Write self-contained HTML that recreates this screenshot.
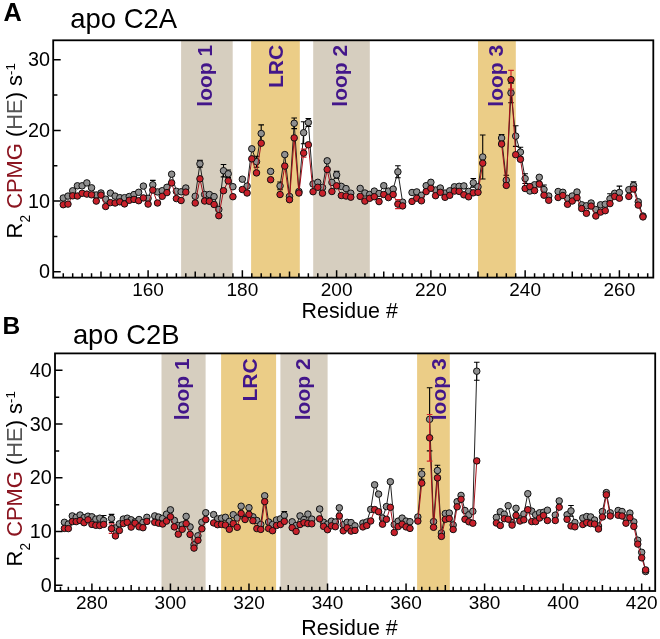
<!DOCTYPE html>
<html><head><meta charset="utf-8"><title>apo C2A / C2B R2 CPMG</title>
<style>html,body{margin:0;padding:0;background:#fff;width:660px;height:639px;overflow:hidden;}svg{display:block;font-family:"Liberation Sans", sans-serif;}svg{will-change:transform;}</style></head>
<body>
<svg width="660" height="639" viewBox="0 0 660 639" font-family='"Liberation Sans", sans-serif'>
<rect width="660" height="639" fill="#fff"/>
<rect x="181.1" y="40.3" width="51.6" height="237.3" fill="#d6cebf"/>
<rect x="251.1" y="40.3" width="48.7" height="237.3" fill="#ebcd87"/>
<rect x="313.2" y="40.3" width="56.6" height="237.3" fill="#d6cebf"/>
<rect x="478" y="40.3" width="37.8" height="237.3" fill="#ebcd87"/>
<text transform="translate(211.9 44.8) rotate(-90)" x="0" y="0" text-anchor="end" font-weight="bold" font-size="21" fill="#43168a">loop 1</text>
<text transform="translate(283 44.8) rotate(-90)" x="0" y="0" text-anchor="end" font-weight="bold" font-size="21" fill="#43168a">LRC</text>
<text transform="translate(347 44.8) rotate(-90)" x="0" y="0" text-anchor="end" font-weight="bold" font-size="21" fill="#43168a">loop 2</text>
<text transform="translate(502.5 44.8) rotate(-90)" x="0" y="0" text-anchor="end" font-weight="bold" font-size="21" fill="#43168a">loop 3</text>
<path d="M63.27 198 L67.98 196.1 L72.69 190.8 L77.4 185.8 L82.12 185.8 L86.83 182.9 L91.54 187.8 L96.26 195 L100.97 193 L105.68 199.2 L110.4 193.1 L115.11 196.1 L119.82 197.7 L124.53 197.7 L129.25 196.5 L133.96 194.6 L138.67 192.3 L143.39 186.1 L148.1 198.3 L152.81 184.8 L157.53 191.9 L162.24 190.7 L166.95 187.3 L171.66 174.2 L176.38 191.3 L181.09 191.8 L185.8 188M195.23 196.3 L199.94 163.8 L204.66 194.5 L209.37 194.5 L214.08 196.6 L218.8 209.5 L223.51 170.7 L228.22 173.8 L232.93 186.7M242.36 179.2 L247.07 186.1 L251.79 148.8 L256.5 161.7 L261.21 133.5M280.06 185.9 L284.78 154.6 L289.49 196.4 L294.2 123.3 L298.92 191.5 L303.63 132.7 L308.34 122.5 L313.06 184 L317.77 182.3 L322.48 187.5 L327.19 160.8 L331.91 182.4 L336.62 174.8 L341.33 186.4 L346.05 188.6 L350.76 193.2M360.19 188.4 L364.9 193 L369.61 194.5 L374.32 191.1 L379.04 193.5 L383.75 185.7 L388.46 191.1 L393.18 189.1 L397.89 171.8 L402.6 202.2M412.03 192.5 L416.74 191.9 L421.45 195.3 L426.17 185.7 L430.88 182.3 L435.59 190 L440.31 188 L445.02 193.1 L449.73 190.8 L454.45 186.8 L459.16 186.3 L463.87 185.9 L468.58 191.4 L473.3 182.8 L478.01 186.8 L482.72 157M501.58 138 L506.29 180.2 L511 92.9 L515.71 136.1 L520.43 152.1 L525.14 178.6 L529.85 191 L534.57 184.8 L539.28 177.3 L543.99 189.5 L548.71 196M558.13 191.5 L562.84 192.3 L567.56 198.3 L572.27 196 L576.98 192 L581.7 204.8 L586.41 205.8 L591.12 203 L595.84 209.5 L600.55 204.8 L605.26 204.2 L609.97 198.8 L614.69 193.3 L619.4 192.5M628.83 189.7 L633.54 185.5 L638.25 201.8 L642.97 216" fill="none" stroke="#222" stroke-width="1"/>
<path d="M63.27 196.4V199.6M60.47 196.4h5.6M60.47 199.6h5.6M67.98 194.5V197.7M65.18 194.5h5.6M65.18 197.7h5.6M72.69 189.2V192.4M69.89 189.2h5.6M69.89 192.4h5.6M77.4 184.2V187.4M74.6 184.2h5.6M74.6 187.4h5.6M82.12 184.2V187.4M79.32 184.2h5.6M79.32 187.4h5.6M86.83 181.3V184.5M84.03 181.3h5.6M84.03 184.5h5.6M91.54 186.2V189.4M88.74 186.2h5.6M88.74 189.4h5.6M96.26 193.4V196.6M93.46 193.4h5.6M93.46 196.6h5.6M100.97 191.4V194.6M98.17 191.4h5.6M98.17 194.6h5.6M105.68 197.6V200.8M102.88 197.6h5.6M102.88 200.8h5.6M110.4 191.5V194.7M107.6 191.5h5.6M107.6 194.7h5.6M115.11 194.5V197.7M112.31 194.5h5.6M112.31 197.7h5.6M119.82 196.1V199.3M117.02 196.1h5.6M117.02 199.3h5.6M124.53 196.1V199.3M121.73 196.1h5.6M121.73 199.3h5.6M129.25 194.9V198.1M126.45 194.9h5.6M126.45 198.1h5.6M133.96 193V196.2M131.16 193h5.6M131.16 196.2h5.6M138.67 190.7V193.9M135.87 190.7h5.6M135.87 193.9h5.6M143.39 184.5V187.7M140.59 184.5h5.6M140.59 187.7h5.6M148.1 196.7V199.9M145.3 196.7h5.6M145.3 199.9h5.6M152.81 180.4V189.2M150.01 180.4h5.6M150.01 189.2h5.6M157.53 190.3V193.5M154.73 190.3h5.6M154.73 193.5h5.6M162.24 189.1V192.3M159.44 189.1h5.6M159.44 192.3h5.6M166.95 185.7V188.9M164.15 185.7h5.6M164.15 188.9h5.6M171.66 172.6V175.8M168.86 172.6h5.6M168.86 175.8h5.6M176.38 189.7V192.9M173.58 189.7h5.6M173.58 192.9h5.6M181.09 190.2V193.4M178.29 190.2h5.6M178.29 193.4h5.6M185.8 186.4V189.6M183 186.4h5.6M183 189.6h5.6M195.23 194.7V197.9M192.43 194.7h5.6M192.43 197.9h5.6M199.94 160.4V167.2M197.14 160.4h5.6M197.14 167.2h5.6M204.66 192.9V196.1M201.86 192.9h5.6M201.86 196.1h5.6M209.37 192.9V196.1M206.57 192.9h5.6M206.57 196.1h5.6M214.08 195V198.2M211.28 195h5.6M211.28 198.2h5.6M218.8 207.9V211.1M216 207.9h5.6M216 211.1h5.6M223.51 164.5V176.9M220.71 164.5h5.6M220.71 176.9h5.6M228.22 170V177.6M225.42 170h5.6M225.42 177.6h5.6M232.93 185.1V188.3M230.13 185.1h5.6M230.13 188.3h5.6M242.36 177.6V180.8M239.56 177.6h5.6M239.56 180.8h5.6M247.07 184.5V187.7M244.27 184.5h5.6M244.27 187.7h5.6M251.79 147.2V150.4M248.99 147.2h5.6M248.99 150.4h5.6M256.5 156.2V167.2M253.7 156.2h5.6M253.7 167.2h5.6M261.21 124.9V142.1M258.41 124.9h5.6M258.41 142.1h5.6M270.64 169.8V173M267.84 169.8h5.6M267.84 173h5.6M280.06 182V189.8M277.26 182h5.6M277.26 189.8h5.6M284.78 153V156.2M281.98 153h5.6M281.98 156.2h5.6M289.49 194.8V198M286.69 194.8h5.6M286.69 198h5.6M294.2 118V128.6M291.4 118h5.6M291.4 128.6h5.6M298.92 189.9V193.1M296.12 189.9h5.6M296.12 193.1h5.6M303.63 121.7V143.7M300.83 121.7h5.6M300.83 143.7h5.6M308.34 118.5V126.5M305.54 118.5h5.6M305.54 126.5h5.6M313.06 182.4V185.6M310.25 182.4h5.6M310.25 185.6h5.6M317.77 180.7V183.9M314.97 180.7h5.6M314.97 183.9h5.6M322.48 185.9V189.1M319.68 185.9h5.6M319.68 189.1h5.6M327.19 159.2V162.4M324.39 159.2h5.6M324.39 162.4h5.6M331.91 180.8V184M329.11 180.8h5.6M329.11 184h5.6M336.62 171.4V178.2M333.82 171.4h5.6M333.82 178.2h5.6M341.33 184.8V188M338.53 184.8h5.6M338.53 188h5.6M346.05 187V190.2M343.25 187h5.6M343.25 190.2h5.6M350.76 191.6V194.8M347.96 191.6h5.6M347.96 194.8h5.6M360.19 186.8V190M357.38 186.8h5.6M357.38 190h5.6M364.9 191.4V194.6M362.1 191.4h5.6M362.1 194.6h5.6M369.61 192.9V196.1M366.81 192.9h5.6M366.81 196.1h5.6M374.32 189.5V192.7M371.52 189.5h5.6M371.52 192.7h5.6M379.04 191.9V195.1M376.24 191.9h5.6M376.24 195.1h5.6M383.75 184.1V187.3M380.95 184.1h5.6M380.95 187.3h5.6M388.46 189.5V192.7M385.66 189.5h5.6M385.66 192.7h5.6M393.18 187.5V190.7M390.38 187.5h5.6M390.38 190.7h5.6M397.89 165.8V177.8M395.09 165.8h5.6M395.09 177.8h5.6M402.6 200.6V203.8M399.8 200.6h5.6M399.8 203.8h5.6M412.03 190.9V194.1M409.23 190.9h5.6M409.23 194.1h5.6M416.74 190.3V193.5M413.94 190.3h5.6M413.94 193.5h5.6M421.45 193.7V196.9M418.65 193.7h5.6M418.65 196.9h5.6M426.17 184.1V187.3M423.37 184.1h5.6M423.37 187.3h5.6M430.88 180.7V183.9M428.08 180.7h5.6M428.08 183.9h5.6M435.59 188.4V191.6M432.79 188.4h5.6M432.79 191.6h5.6M440.31 186.4V189.6M437.51 186.4h5.6M437.51 189.6h5.6M445.02 191.5V194.7M442.22 191.5h5.6M442.22 194.7h5.6M449.73 189.2V192.4M446.93 189.2h5.6M446.93 192.4h5.6M454.45 185.2V188.4M451.65 185.2h5.6M451.65 188.4h5.6M459.16 184.7V187.9M456.36 184.7h5.6M456.36 187.9h5.6M463.87 184.3V187.5M461.07 184.3h5.6M461.07 187.5h5.6M468.58 189.8V193M465.78 189.8h5.6M465.78 193h5.6M473.3 178.5V187.1M470.5 178.5h5.6M470.5 187.1h5.6M478.01 185.2V188.4M475.21 185.2h5.6M475.21 188.4h5.6M482.72 135V179M479.92 135h5.6M479.92 179h5.6M501.58 134.5V141.5M498.78 134.5h5.6M498.78 141.5h5.6M506.29 175.2V185.2M503.49 175.2h5.6M503.49 185.2h5.6M511 83.1V102.7M508.2 83.1h5.6M508.2 102.7h5.6M515.71 125.8V146.4M512.91 125.8h5.6M512.91 146.4h5.6M520.43 147.3V156.9M517.63 147.3h5.6M517.63 156.9h5.6M525.14 173.7V183.5M522.34 173.7h5.6M522.34 183.5h5.6M529.85 189.4V192.6M527.05 189.4h5.6M527.05 192.6h5.6M534.57 183.2V186.4M531.77 183.2h5.6M531.77 186.4h5.6M539.28 175.7V178.9M536.48 175.7h5.6M536.48 178.9h5.6M543.99 185V194M541.19 185h5.6M541.19 194h5.6M548.71 194.4V197.6M545.91 194.4h5.6M545.91 197.6h5.6M558.13 189.9V193.1M555.33 189.9h5.6M555.33 193.1h5.6M562.84 190.7V193.9M560.04 190.7h5.6M560.04 193.9h5.6M567.56 196.7V199.9M564.76 196.7h5.6M564.76 199.9h5.6M572.27 194.4V197.6M569.47 194.4h5.6M569.47 197.6h5.6M576.98 190.4V193.6M574.18 190.4h5.6M574.18 193.6h5.6M581.7 203.2V206.4M578.9 203.2h5.6M578.9 206.4h5.6M586.41 204.2V207.4M583.61 204.2h5.6M583.61 207.4h5.6M591.12 201.4V204.6M588.32 201.4h5.6M588.32 204.6h5.6M595.84 207.9V211.1M593.04 207.9h5.6M593.04 211.1h5.6M600.55 203.2V206.4M597.75 203.2h5.6M597.75 206.4h5.6M605.26 202.6V205.8M602.46 202.6h5.6M602.46 205.8h5.6M609.97 193.7V203.9M607.17 193.7h5.6M607.17 203.9h5.6M614.69 191.7V194.9M611.89 191.7h5.6M611.89 194.9h5.6M619.4 186.1V198.9M616.6 186.1h5.6M616.6 198.9h5.6M628.83 188.1V191.3M626.03 188.1h5.6M626.03 191.3h5.6M633.54 181.9V189.1M630.74 181.9h5.6M630.74 189.1h5.6M638.25 200.2V203.4M635.45 200.2h5.6M635.45 203.4h5.6M642.97 214.4V217.6M640.17 214.4h5.6M640.17 217.6h5.6" fill="none" stroke="#000" stroke-width="1.1"/>
<g fill="#8f8f8f" stroke="#111" stroke-width="1.0"><circle cx="63.27" cy="198" r="3.25"/><circle cx="67.98" cy="196.1" r="3.25"/><circle cx="72.69" cy="190.8" r="3.25"/><circle cx="77.4" cy="185.8" r="3.25"/><circle cx="82.12" cy="185.8" r="3.25"/><circle cx="86.83" cy="182.9" r="3.25"/><circle cx="91.54" cy="187.8" r="3.25"/><circle cx="96.26" cy="195" r="3.25"/><circle cx="100.97" cy="193" r="3.25"/><circle cx="105.68" cy="199.2" r="3.25"/><circle cx="110.4" cy="193.1" r="3.25"/><circle cx="115.11" cy="196.1" r="3.25"/><circle cx="119.82" cy="197.7" r="3.25"/><circle cx="124.53" cy="197.7" r="3.25"/><circle cx="129.25" cy="196.5" r="3.25"/><circle cx="133.96" cy="194.6" r="3.25"/><circle cx="138.67" cy="192.3" r="3.25"/><circle cx="143.39" cy="186.1" r="3.25"/><circle cx="148.1" cy="198.3" r="3.25"/><circle cx="152.81" cy="184.8" r="3.25"/><circle cx="157.53" cy="191.9" r="3.25"/><circle cx="162.24" cy="190.7" r="3.25"/><circle cx="166.95" cy="187.3" r="3.25"/><circle cx="171.66" cy="174.2" r="3.25"/><circle cx="176.38" cy="191.3" r="3.25"/><circle cx="181.09" cy="191.8" r="3.25"/><circle cx="185.8" cy="188" r="3.25"/><circle cx="195.23" cy="196.3" r="3.25"/><circle cx="199.94" cy="163.8" r="3.25"/><circle cx="204.66" cy="194.5" r="3.25"/><circle cx="209.37" cy="194.5" r="3.25"/><circle cx="214.08" cy="196.6" r="3.25"/><circle cx="218.8" cy="209.5" r="3.25"/><circle cx="223.51" cy="170.7" r="3.25"/><circle cx="228.22" cy="173.8" r="3.25"/><circle cx="232.93" cy="186.7" r="3.25"/><circle cx="242.36" cy="179.2" r="3.25"/><circle cx="247.07" cy="186.1" r="3.25"/><circle cx="251.79" cy="148.8" r="3.25"/><circle cx="256.5" cy="161.7" r="3.25"/><circle cx="261.21" cy="133.5" r="3.25"/><circle cx="270.64" cy="171.4" r="3.25"/><circle cx="280.06" cy="185.9" r="3.25"/><circle cx="284.78" cy="154.6" r="3.25"/><circle cx="289.49" cy="196.4" r="3.25"/><circle cx="294.2" cy="123.3" r="3.25"/><circle cx="298.92" cy="191.5" r="3.25"/><circle cx="303.63" cy="132.7" r="3.25"/><circle cx="308.34" cy="122.5" r="3.25"/><circle cx="313.06" cy="184" r="3.25"/><circle cx="317.77" cy="182.3" r="3.25"/><circle cx="322.48" cy="187.5" r="3.25"/><circle cx="327.19" cy="160.8" r="3.25"/><circle cx="331.91" cy="182.4" r="3.25"/><circle cx="336.62" cy="174.8" r="3.25"/><circle cx="341.33" cy="186.4" r="3.25"/><circle cx="346.05" cy="188.6" r="3.25"/><circle cx="350.76" cy="193.2" r="3.25"/><circle cx="360.19" cy="188.4" r="3.25"/><circle cx="364.9" cy="193" r="3.25"/><circle cx="369.61" cy="194.5" r="3.25"/><circle cx="374.32" cy="191.1" r="3.25"/><circle cx="379.04" cy="193.5" r="3.25"/><circle cx="383.75" cy="185.7" r="3.25"/><circle cx="388.46" cy="191.1" r="3.25"/><circle cx="393.18" cy="189.1" r="3.25"/><circle cx="397.89" cy="171.8" r="3.25"/><circle cx="402.6" cy="202.2" r="3.25"/><circle cx="412.03" cy="192.5" r="3.25"/><circle cx="416.74" cy="191.9" r="3.25"/><circle cx="421.45" cy="195.3" r="3.25"/><circle cx="426.17" cy="185.7" r="3.25"/><circle cx="430.88" cy="182.3" r="3.25"/><circle cx="435.59" cy="190" r="3.25"/><circle cx="440.31" cy="188" r="3.25"/><circle cx="445.02" cy="193.1" r="3.25"/><circle cx="449.73" cy="190.8" r="3.25"/><circle cx="454.45" cy="186.8" r="3.25"/><circle cx="459.16" cy="186.3" r="3.25"/><circle cx="463.87" cy="185.9" r="3.25"/><circle cx="468.58" cy="191.4" r="3.25"/><circle cx="473.3" cy="182.8" r="3.25"/><circle cx="478.01" cy="186.8" r="3.25"/><circle cx="482.72" cy="157" r="3.25"/><circle cx="501.58" cy="138" r="3.25"/><circle cx="506.29" cy="180.2" r="3.25"/><circle cx="511" cy="92.9" r="3.25"/><circle cx="515.71" cy="136.1" r="3.25"/><circle cx="520.43" cy="152.1" r="3.25"/><circle cx="525.14" cy="178.6" r="3.25"/><circle cx="529.85" cy="191" r="3.25"/><circle cx="534.57" cy="184.8" r="3.25"/><circle cx="539.28" cy="177.3" r="3.25"/><circle cx="543.99" cy="189.5" r="3.25"/><circle cx="548.71" cy="196" r="3.25"/><circle cx="558.13" cy="191.5" r="3.25"/><circle cx="562.84" cy="192.3" r="3.25"/><circle cx="567.56" cy="198.3" r="3.25"/><circle cx="572.27" cy="196" r="3.25"/><circle cx="576.98" cy="192" r="3.25"/><circle cx="581.7" cy="204.8" r="3.25"/><circle cx="586.41" cy="205.8" r="3.25"/><circle cx="591.12" cy="203" r="3.25"/><circle cx="595.84" cy="209.5" r="3.25"/><circle cx="600.55" cy="204.8" r="3.25"/><circle cx="605.26" cy="204.2" r="3.25"/><circle cx="609.97" cy="198.8" r="3.25"/><circle cx="614.69" cy="193.3" r="3.25"/><circle cx="619.4" cy="192.5" r="3.25"/><circle cx="628.83" cy="189.7" r="3.25"/><circle cx="633.54" cy="185.5" r="3.25"/><circle cx="638.25" cy="201.8" r="3.25"/><circle cx="642.97" cy="216" r="3.25"/></g>
<path d="M63.27 204.7 L67.98 204.1 L72.69 195.8 L77.4 196 L82.12 193.3 L86.83 194.1 L91.54 194.8 L96.26 201.1 L100.97 195.1 L105.68 206.5 L110.4 202.6 L115.11 203 L119.82 201.8 L124.53 203.9 L129.25 200.3 L133.96 199.4 L138.67 200.7 L143.39 197.9 L148.1 204.1 L152.81 190.1 L157.53 203 L162.24 196.3 L166.95 192.6 L171.66 182.9 L176.38 198.6 L181.09 200.5 L185.8 192.1M195.23 203 L199.94 178.8 L204.66 201 L209.37 201.3 L214.08 204.5 L218.8 215.7 L223.51 190.7 L228.22 180.9 L232.93 196.7M242.36 189.5 L247.07 193 L251.79 158.8 L256.5 172.9 L261.21 143.2M280.06 194.5 L284.78 166.1 L289.49 199.7 L294.2 137.9 L298.92 193 L303.63 153.1 L308.34 144.8 L313.06 191.7 L317.77 187.3 L322.48 193.2 L327.19 169.5 L331.91 191.5 L336.62 185.8 L341.33 195.5 L346.05 196 L350.76 197.2M360.19 196.4 L364.9 201.1 L369.61 198.3 L374.32 196.7 L379.04 201.6 L383.75 194.5 L388.46 197.6 L393.18 194.5 L397.89 204.1 L402.6 205.9M412.03 201.4 L416.74 198.2 L421.45 200.8 L426.17 191.6 L430.88 188.3 L435.59 195.7 L440.31 192.3 L445.02 197.3 L449.73 195.3 L454.45 191.1 L459.16 191.4 L463.87 194.8 L468.58 196.8 L473.3 192.8 L478.01 192.3 L482.72 163.2M501.58 144 L506.29 185.4 L511 79.7 L515.71 154.7 L520.43 159.3 L525.14 188.5 L529.85 186.6 L534.57 190.6 L539.28 184.1 L543.99 195.2 L548.71 200.3M558.13 197.5 L562.84 195.5 L567.56 204.3 L572.27 201 L576.98 197.7 L581.7 208.5 L586.41 213.3 L591.12 206.1 L595.84 216 L600.55 212.1 L605.26 210.7 L609.97 203.6 L614.69 196.4 L619.4 198.2M628.83 196.4 L633.54 189.1 L638.25 205.1 L642.97 216.9" fill="none" stroke="#a3101a" stroke-width="1"/>
<path d="M63.27 203.1V206.3M60.47 203.1h5.6M60.47 206.3h5.6M67.98 202.5V205.7M65.18 202.5h5.6M65.18 205.7h5.6M72.69 194.2V197.4M69.89 194.2h5.6M69.89 197.4h5.6M77.4 194.4V197.6M74.6 194.4h5.6M74.6 197.6h5.6M82.12 191.7V194.9M79.32 191.7h5.6M79.32 194.9h5.6M86.83 192.5V195.7M84.03 192.5h5.6M84.03 195.7h5.6M91.54 193.2V196.4M88.74 193.2h5.6M88.74 196.4h5.6M96.26 199.5V202.7M93.46 199.5h5.6M93.46 202.7h5.6M100.97 193.5V196.7M98.17 193.5h5.6M98.17 196.7h5.6M105.68 204.9V208.1M102.88 204.9h5.6M102.88 208.1h5.6M110.4 201V204.2M107.6 201h5.6M107.6 204.2h5.6M115.11 201.4V204.6M112.31 201.4h5.6M112.31 204.6h5.6M119.82 200.2V203.4M117.02 200.2h5.6M117.02 203.4h5.6M124.53 202.3V205.5M121.73 202.3h5.6M121.73 205.5h5.6M129.25 198.7V201.9M126.45 198.7h5.6M126.45 201.9h5.6M133.96 197.8V201M131.16 197.8h5.6M131.16 201h5.6M138.67 199.1V202.3M135.87 199.1h5.6M135.87 202.3h5.6M143.39 196.3V199.5M140.59 196.3h5.6M140.59 199.5h5.6M148.1 202.5V205.7M145.3 202.5h5.6M145.3 205.7h5.6M152.81 188.5V191.7M150.01 188.5h5.6M150.01 191.7h5.6M157.53 201.4V204.6M154.73 201.4h5.6M154.73 204.6h5.6M162.24 194.7V197.9M159.44 194.7h5.6M159.44 197.9h5.6M166.95 191V194.2M164.15 191h5.6M164.15 194.2h5.6M171.66 181.3V184.5M168.86 181.3h5.6M168.86 184.5h5.6M176.38 197V200.2M173.58 197h5.6M173.58 200.2h5.6M181.09 198.9V202.1M178.29 198.9h5.6M178.29 202.1h5.6M185.8 190.5V193.7M183 190.5h5.6M183 193.7h5.6M195.23 201.4V204.6M192.43 201.4h5.6M192.43 204.6h5.6M199.94 177.2V180.4M197.14 177.2h5.6M197.14 180.4h5.6M204.66 199.4V202.6M201.86 199.4h5.6M201.86 202.6h5.6M209.37 199.7V202.9M206.57 199.7h5.6M206.57 202.9h5.6M214.08 202.9V206.1M211.28 202.9h5.6M211.28 206.1h5.6M218.8 214.1V217.3M216 214.1h5.6M216 217.3h5.6M223.51 189.1V192.3M220.71 189.1h5.6M220.71 192.3h5.6M228.22 179.3V182.5M225.42 179.3h5.6M225.42 182.5h5.6M232.93 195.1V198.3M230.13 195.1h5.6M230.13 198.3h5.6M242.36 187.9V191.1M239.56 187.9h5.6M239.56 191.1h5.6M247.07 191.4V194.6M244.27 191.4h5.6M244.27 194.6h5.6M251.79 157.2V160.4M248.99 157.2h5.6M248.99 160.4h5.6M256.5 171.3V174.5M253.7 171.3h5.6M253.7 174.5h5.6M261.21 141.6V144.8M258.41 141.6h5.6M258.41 144.8h5.6M270.64 178.1V181.3M267.84 178.1h5.6M267.84 181.3h5.6M280.06 192.9V196.1M277.26 192.9h5.6M277.26 196.1h5.6M284.78 164.5V167.7M281.98 164.5h5.6M281.98 167.7h5.6M289.49 198.1V201.3M286.69 198.1h5.6M286.69 201.3h5.6M294.2 136.3V139.5M291.4 136.3h5.6M291.4 139.5h5.6M298.92 191.4V194.6M296.12 191.4h5.6M296.12 194.6h5.6M303.63 149.1V157.1M300.83 149.1h5.6M300.83 157.1h5.6M308.34 143.2V146.4M305.54 143.2h5.6M305.54 146.4h5.6M313.06 190.1V193.3M310.25 190.1h5.6M310.25 193.3h5.6M317.77 185.7V188.9M314.97 185.7h5.6M314.97 188.9h5.6M322.48 191.6V194.8M319.68 191.6h5.6M319.68 194.8h5.6M327.19 167.9V171.1M324.39 167.9h5.6M324.39 171.1h5.6M331.91 189.9V193.1M329.11 189.9h5.6M329.11 193.1h5.6M336.62 184.2V187.4M333.82 184.2h5.6M333.82 187.4h5.6M341.33 193.9V197.1M338.53 193.9h5.6M338.53 197.1h5.6M346.05 194.4V197.6M343.25 194.4h5.6M343.25 197.6h5.6M350.76 195.6V198.8M347.96 195.6h5.6M347.96 198.8h5.6M360.19 194.8V198M357.38 194.8h5.6M357.38 198h5.6M364.9 199.5V202.7M362.1 199.5h5.6M362.1 202.7h5.6M369.61 196.7V199.9M366.81 196.7h5.6M366.81 199.9h5.6M374.32 195.1V198.3M371.52 195.1h5.6M371.52 198.3h5.6M379.04 200V203.2M376.24 200h5.6M376.24 203.2h5.6M383.75 192.9V196.1M380.95 192.9h5.6M380.95 196.1h5.6M388.46 196V199.2M385.66 196h5.6M385.66 199.2h5.6M393.18 192.9V196.1M390.38 192.9h5.6M390.38 196.1h5.6M397.89 199.6V208.6M395.09 199.6h5.6M395.09 208.6h5.6M402.6 204.3V207.5M399.8 204.3h5.6M399.8 207.5h5.6M412.03 199.8V203M409.23 199.8h5.6M409.23 203h5.6M416.74 196.6V199.8M413.94 196.6h5.6M413.94 199.8h5.6M421.45 199.2V202.4M418.65 199.2h5.6M418.65 202.4h5.6M426.17 190V193.2M423.37 190h5.6M423.37 193.2h5.6M430.88 186.7V189.9M428.08 186.7h5.6M428.08 189.9h5.6M435.59 194.1V197.3M432.79 194.1h5.6M432.79 197.3h5.6M440.31 190.7V193.9M437.51 190.7h5.6M437.51 193.9h5.6M445.02 195.7V198.9M442.22 195.7h5.6M442.22 198.9h5.6M449.73 193.7V196.9M446.93 193.7h5.6M446.93 196.9h5.6M454.45 189.5V192.7M451.65 189.5h5.6M451.65 192.7h5.6M459.16 189.8V193M456.36 189.8h5.6M456.36 193h5.6M463.87 193.2V196.4M461.07 193.2h5.6M461.07 196.4h5.6M468.58 195.2V198.4M465.78 195.2h5.6M465.78 198.4h5.6M473.3 191.2V194.4M470.5 191.2h5.6M470.5 194.4h5.6M478.01 190.7V193.9M475.21 190.7h5.6M475.21 193.9h5.6M482.72 161.6V164.8M479.92 161.6h5.6M479.92 164.8h5.6M501.58 142.4V145.6M498.78 142.4h5.6M498.78 145.6h5.6M506.29 183.8V187M503.49 183.8h5.6M503.49 187h5.6M511 70.3V89.1M508.2 70.3h5.6M508.2 89.1h5.6M515.71 153.1V156.3M512.91 153.1h5.6M512.91 156.3h5.6M520.43 157.7V160.9M517.63 157.7h5.6M517.63 160.9h5.6M525.14 186.9V190.1M522.34 186.9h5.6M522.34 190.1h5.6M529.85 185V188.2M527.05 185h5.6M527.05 188.2h5.6M534.57 189V192.2M531.77 189h5.6M531.77 192.2h5.6M539.28 182.5V185.7M536.48 182.5h5.6M536.48 185.7h5.6M543.99 193.6V196.8M541.19 193.6h5.6M541.19 196.8h5.6M548.71 198.7V201.9M545.91 198.7h5.6M545.91 201.9h5.6M558.13 195.9V199.1M555.33 195.9h5.6M555.33 199.1h5.6M562.84 193.9V197.1M560.04 193.9h5.6M560.04 197.1h5.6M567.56 202.7V205.9M564.76 202.7h5.6M564.76 205.9h5.6M572.27 199.4V202.6M569.47 199.4h5.6M569.47 202.6h5.6M576.98 196.1V199.3M574.18 196.1h5.6M574.18 199.3h5.6M581.7 206.9V210.1M578.9 206.9h5.6M578.9 210.1h5.6M586.41 211.7V214.9M583.61 211.7h5.6M583.61 214.9h5.6M591.12 204.5V207.7M588.32 204.5h5.6M588.32 207.7h5.6M595.84 214.4V217.6M593.04 214.4h5.6M593.04 217.6h5.6M600.55 210.5V213.7M597.75 210.5h5.6M597.75 213.7h5.6M605.26 209.1V212.3M602.46 209.1h5.6M602.46 212.3h5.6M609.97 202V205.2M607.17 202h5.6M607.17 205.2h5.6M614.69 194.8V198M611.89 194.8h5.6M611.89 198h5.6M619.4 196.6V199.8M616.6 196.6h5.6M616.6 199.8h5.6M628.83 194.8V198M626.03 194.8h5.6M626.03 198h5.6M633.54 187.5V190.7M630.74 187.5h5.6M630.74 190.7h5.6M638.25 203.5V206.7M635.45 203.5h5.6M635.45 206.7h5.6M642.97 215.3V218.5M640.17 215.3h5.6M640.17 218.5h5.6" fill="none" stroke="#d0202a" stroke-width="1.15"/>
<g fill="#c8202a" stroke="#111" stroke-width="1.0"><circle cx="63.27" cy="204.7" r="3.25"/><circle cx="67.98" cy="204.1" r="3.25"/><circle cx="72.69" cy="195.8" r="3.25"/><circle cx="77.4" cy="196" r="3.25"/><circle cx="82.12" cy="193.3" r="3.25"/><circle cx="86.83" cy="194.1" r="3.25"/><circle cx="91.54" cy="194.8" r="3.25"/><circle cx="96.26" cy="201.1" r="3.25"/><circle cx="100.97" cy="195.1" r="3.25"/><circle cx="105.68" cy="206.5" r="3.25"/><circle cx="110.4" cy="202.6" r="3.25"/><circle cx="115.11" cy="203" r="3.25"/><circle cx="119.82" cy="201.8" r="3.25"/><circle cx="124.53" cy="203.9" r="3.25"/><circle cx="129.25" cy="200.3" r="3.25"/><circle cx="133.96" cy="199.4" r="3.25"/><circle cx="138.67" cy="200.7" r="3.25"/><circle cx="143.39" cy="197.9" r="3.25"/><circle cx="148.1" cy="204.1" r="3.25"/><circle cx="152.81" cy="190.1" r="3.25"/><circle cx="157.53" cy="203" r="3.25"/><circle cx="162.24" cy="196.3" r="3.25"/><circle cx="166.95" cy="192.6" r="3.25"/><circle cx="171.66" cy="182.9" r="3.25"/><circle cx="176.38" cy="198.6" r="3.25"/><circle cx="181.09" cy="200.5" r="3.25"/><circle cx="185.8" cy="192.1" r="3.25"/><circle cx="195.23" cy="203" r="3.25"/><circle cx="199.94" cy="178.8" r="3.25"/><circle cx="204.66" cy="201" r="3.25"/><circle cx="209.37" cy="201.3" r="3.25"/><circle cx="214.08" cy="204.5" r="3.25"/><circle cx="218.8" cy="215.7" r="3.25"/><circle cx="223.51" cy="190.7" r="3.25"/><circle cx="228.22" cy="180.9" r="3.25"/><circle cx="232.93" cy="196.7" r="3.25"/><circle cx="242.36" cy="189.5" r="3.25"/><circle cx="247.07" cy="193" r="3.25"/><circle cx="251.79" cy="158.8" r="3.25"/><circle cx="256.5" cy="172.9" r="3.25"/><circle cx="261.21" cy="143.2" r="3.25"/><circle cx="270.64" cy="179.7" r="3.25"/><circle cx="280.06" cy="194.5" r="3.25"/><circle cx="284.78" cy="166.1" r="3.25"/><circle cx="289.49" cy="199.7" r="3.25"/><circle cx="294.2" cy="137.9" r="3.25"/><circle cx="298.92" cy="193" r="3.25"/><circle cx="303.63" cy="153.1" r="3.25"/><circle cx="308.34" cy="144.8" r="3.25"/><circle cx="313.06" cy="191.7" r="3.25"/><circle cx="317.77" cy="187.3" r="3.25"/><circle cx="322.48" cy="193.2" r="3.25"/><circle cx="327.19" cy="169.5" r="3.25"/><circle cx="331.91" cy="191.5" r="3.25"/><circle cx="336.62" cy="185.8" r="3.25"/><circle cx="341.33" cy="195.5" r="3.25"/><circle cx="346.05" cy="196" r="3.25"/><circle cx="350.76" cy="197.2" r="3.25"/><circle cx="360.19" cy="196.4" r="3.25"/><circle cx="364.9" cy="201.1" r="3.25"/><circle cx="369.61" cy="198.3" r="3.25"/><circle cx="374.32" cy="196.7" r="3.25"/><circle cx="379.04" cy="201.6" r="3.25"/><circle cx="383.75" cy="194.5" r="3.25"/><circle cx="388.46" cy="197.6" r="3.25"/><circle cx="393.18" cy="194.5" r="3.25"/><circle cx="397.89" cy="204.1" r="3.25"/><circle cx="402.6" cy="205.9" r="3.25"/><circle cx="412.03" cy="201.4" r="3.25"/><circle cx="416.74" cy="198.2" r="3.25"/><circle cx="421.45" cy="200.8" r="3.25"/><circle cx="426.17" cy="191.6" r="3.25"/><circle cx="430.88" cy="188.3" r="3.25"/><circle cx="435.59" cy="195.7" r="3.25"/><circle cx="440.31" cy="192.3" r="3.25"/><circle cx="445.02" cy="197.3" r="3.25"/><circle cx="449.73" cy="195.3" r="3.25"/><circle cx="454.45" cy="191.1" r="3.25"/><circle cx="459.16" cy="191.4" r="3.25"/><circle cx="463.87" cy="194.8" r="3.25"/><circle cx="468.58" cy="196.8" r="3.25"/><circle cx="473.3" cy="192.8" r="3.25"/><circle cx="478.01" cy="192.3" r="3.25"/><circle cx="482.72" cy="163.2" r="3.25"/><circle cx="501.58" cy="144" r="3.25"/><circle cx="506.29" cy="185.4" r="3.25"/><circle cx="511" cy="79.7" r="3.25"/><circle cx="515.71" cy="154.7" r="3.25"/><circle cx="520.43" cy="159.3" r="3.25"/><circle cx="525.14" cy="188.5" r="3.25"/><circle cx="529.85" cy="186.6" r="3.25"/><circle cx="534.57" cy="190.6" r="3.25"/><circle cx="539.28" cy="184.1" r="3.25"/><circle cx="543.99" cy="195.2" r="3.25"/><circle cx="548.71" cy="200.3" r="3.25"/><circle cx="558.13" cy="197.5" r="3.25"/><circle cx="562.84" cy="195.5" r="3.25"/><circle cx="567.56" cy="204.3" r="3.25"/><circle cx="572.27" cy="201" r="3.25"/><circle cx="576.98" cy="197.7" r="3.25"/><circle cx="581.7" cy="208.5" r="3.25"/><circle cx="586.41" cy="213.3" r="3.25"/><circle cx="591.12" cy="206.1" r="3.25"/><circle cx="595.84" cy="216" r="3.25"/><circle cx="600.55" cy="212.1" r="3.25"/><circle cx="605.26" cy="210.7" r="3.25"/><circle cx="609.97" cy="203.6" r="3.25"/><circle cx="614.69" cy="196.4" r="3.25"/><circle cx="619.4" cy="198.2" r="3.25"/><circle cx="628.83" cy="196.4" r="3.25"/><circle cx="633.54" cy="189.1" r="3.25"/><circle cx="638.25" cy="205.1" r="3.25"/><circle cx="642.97" cy="216.9" r="3.25"/></g>
<rect x="53.2" y="40.3" width="600.1" height="237.3" fill="none" stroke="#000" stroke-width="1.8"/>
<path d="M53.2 271.8h7.5M53.2 201.1h7.5M53.2 130.4h7.5M53.2 59.7h7.5M53.2 236.45h4.2M53.2 165.75h4.2M53.2 95.05h4.2M63.27 277.6v-4.3M72.69 277.6v-4.3M82.12 277.6v-4.3M91.54 277.6v-4.3M100.97 277.6v-6.1M110.4 277.6v-4.3M119.82 277.6v-4.3M129.25 277.6v-4.3M138.67 277.6v-4.3M148.1 277.6v-7.4M157.53 277.6v-4.3M166.95 277.6v-4.3M176.38 277.6v-4.3M185.8 277.6v-4.3M195.23 277.6v-6.1M204.66 277.6v-4.3M214.08 277.6v-4.3M223.51 277.6v-4.3M232.93 277.6v-4.3M242.36 277.6v-7.4M251.79 277.6v-4.3M261.21 277.6v-4.3M270.64 277.6v-4.3M280.06 277.6v-4.3M289.49 277.6v-6.1M298.92 277.6v-4.3M308.34 277.6v-4.3M317.77 277.6v-4.3M327.19 277.6v-4.3M336.62 277.6v-7.4M346.05 277.6v-4.3M355.47 277.6v-4.3M364.9 277.6v-4.3M374.32 277.6v-4.3M383.75 277.6v-6.1M393.18 277.6v-4.3M402.6 277.6v-4.3M412.03 277.6v-4.3M421.45 277.6v-4.3M430.88 277.6v-7.4M440.31 277.6v-4.3M449.73 277.6v-4.3M459.16 277.6v-4.3M468.58 277.6v-4.3M478.01 277.6v-6.1M487.44 277.6v-4.3M496.86 277.6v-4.3M506.29 277.6v-4.3M515.71 277.6v-4.3M525.14 277.6v-7.4M534.57 277.6v-4.3M543.99 277.6v-4.3M553.42 277.6v-4.3M562.84 277.6v-4.3M572.27 277.6v-6.1M581.7 277.6v-4.3M591.12 277.6v-4.3M600.55 277.6v-4.3M609.97 277.6v-4.3M619.4 277.6v-7.4M628.83 277.6v-4.3M638.25 277.6v-4.3M647.68 277.6v-4.3" stroke="#000" stroke-width="1.5" fill="none"/>
<text x="50" y="278.4" text-anchor="end" font-size="19.8">0</text>
<text x="50" y="207.7" text-anchor="end" font-size="19.8">10</text>
<text x="50" y="137" text-anchor="end" font-size="19.8">20</text>
<text x="50" y="66.3" text-anchor="end" font-size="19.8">30</text>
<text x="148.1" y="295.9" text-anchor="middle" font-size="19">160</text>
<text x="242.36" y="295.9" text-anchor="middle" font-size="19">180</text>
<text x="336.62" y="295.9" text-anchor="middle" font-size="19">200</text>
<text x="430.88" y="295.9" text-anchor="middle" font-size="19">220</text>
<text x="525.14" y="295.9" text-anchor="middle" font-size="19">240</text>
<text x="619.4" y="295.9" text-anchor="middle" font-size="19">260</text>
<rect x="161.5" y="353.4" width="44.1" height="237.6" fill="#d6cebf"/>
<rect x="221.1" y="353.4" width="55" height="237.6" fill="#ebcd87"/>
<rect x="280.4" y="353.4" width="47.2" height="237.6" fill="#d6cebf"/>
<rect x="417.1" y="353.4" width="32.7" height="237.6" fill="#ebcd87"/>
<text transform="translate(189.3 358.4) rotate(-90)" x="0" y="0" text-anchor="end" font-weight="bold" font-size="21" fill="#43168a">loop 1</text>
<text transform="translate(256.7 358.4) rotate(-90)" x="0" y="0" text-anchor="end" font-weight="bold" font-size="21" fill="#43168a">LRC</text>
<text transform="translate(310.4 358.4) rotate(-90)" x="0" y="0" text-anchor="end" font-weight="bold" font-size="21" fill="#43168a">loop 2</text>
<text transform="translate(446 358.4) rotate(-90)" x="0" y="0" text-anchor="end" font-weight="bold" font-size="21" fill="#43168a">loop 3</text>
<path d="M64.41 522.3 L68.34 524.1 L72.27 515.9 L76.19 517.3 L80.12 515 L84.05 517.7 L87.97 516.2 L91.9 516.8 L95.83 519.1 L99.75 518.2 L103.68 520.5M111.54 518.4 L115.46 528 L119.39 523.8 L123.32 519.1 L127.24 518.2 L131.17 519.8 L135.1 521.8 L139.02 519.5 L142.95 522.5 L146.88 517.3M154.73 515.9 L158.66 517.1 L162.59 518.5 L166.51 514.2 L170.44 509.8 L174.37 520.4 L178.29 525.5 L182.22 524.9 L186.15 516.4 L190.07 526.9 L194 544.8 L197.93 535.8 L201.86 522.2 L205.78 512.7M213.64 514.6 L217.56 518.9 L221.49 518.2 L225.42 517.3 L229.34 521.4 L233.27 514.7 L237.2 518 L241.13 506.2 L245.05 518.2 L248.98 507.7 L252.91 516.8 L256.83 520.5 L260.76 524.5 L264.69 495.8 L268.62 522 L272.54 524.5 L276.47 520 L280.4 518.9 L284.32 515.3M292.18 521.8 L296.1 525.5 L300.03 515.9 L303.96 519.5 L307.88 514.1 L311.81 519.1M319.67 509 L323.59 522.3 L327.52 524.2 L331.45 521.2 L335.37 522 L339.3 507.8 L343.23 524.7 L347.15 522.3 L351.08 522.6 L355.01 525.8M362.86 523.1 L366.79 522 L370.72 509.4 L374.64 484.8 L378.57 494.1 L382.5 518.1 L386.42 506.6 L390.35 481.7 L394.28 524.6 L398.21 521.1 L402.13 518.1 L406.06 521.1 L409.99 521.7M417.84 517 L421.77 474M429.62 419.3 L433.55 521.6 L437.48 470.5 L441.4 533 L445.33 513.6 L449.26 513 L453.18 525 L457.11 501.7 L461.04 495.4 L464.97 510.5 L468.89 514.8 L472.82 511.3 L476.75 371.2M496.38 517.4 L500.31 511.7 L504.24 514.2 L508.16 505.7 L512.09 522.6 L516.02 508.3 L519.94 518.8 L523.87 514 L527.8 493.7 L531.72 511.1 L535.65 514.8 L539.58 512.8 L543.5 512.3 L547.43 510.2M555.29 515.1 L559.21 500.9M567.07 514.8 L570.99 510.9 L574.92 522.5M582.77 518 L586.7 516.5 L590.63 516.9 L594.56 520 L598.48 526 L602.41 511.5 L606.34 492.6 L610.26 512.8M618.12 510.5 L622.04 511.5 L625.97 518 L629.9 513.1 L633.83 521.9 L637.75 540.2 L641.68 552.3 L645.61 571.5" fill="none" stroke="#222" stroke-width="1"/>
<path d="M64.41 520.7V523.9M61.61 520.7h5.6M61.61 523.9h5.6M68.34 522.5V525.7M65.54 522.5h5.6M65.54 525.7h5.6M72.27 514.3V517.5M69.47 514.3h5.6M69.47 517.5h5.6M76.19 515.7V518.9M73.39 515.7h5.6M73.39 518.9h5.6M80.12 513.4V516.6M77.32 513.4h5.6M77.32 516.6h5.6M84.05 516.1V519.3M81.25 516.1h5.6M81.25 519.3h5.6M87.97 514.6V517.8M85.17 514.6h5.6M85.17 517.8h5.6M91.9 515.2V518.4M89.1 515.2h5.6M89.1 518.4h5.6M95.83 517.5V520.7M93.03 517.5h5.6M93.03 520.7h5.6M99.75 516.6V519.8M96.95 516.6h5.6M96.95 519.8h5.6M103.68 515.5V525.5M100.88 515.5h5.6M100.88 525.5h5.6M111.54 514.4V522.4M108.74 514.4h5.6M108.74 522.4h5.6M115.46 526.4V529.6M112.66 526.4h5.6M112.66 529.6h5.6M119.39 522.2V525.4M116.59 522.2h5.6M116.59 525.4h5.6M123.32 517.5V520.7M120.52 517.5h5.6M120.52 520.7h5.6M127.24 516.6V519.8M124.44 516.6h5.6M124.44 519.8h5.6M131.17 518.2V521.4M128.37 518.2h5.6M128.37 521.4h5.6M135.1 520.2V523.4M132.3 520.2h5.6M132.3 523.4h5.6M139.02 517.9V521.1M136.22 517.9h5.6M136.22 521.1h5.6M142.95 520.9V524.1M140.15 520.9h5.6M140.15 524.1h5.6M146.88 515.7V518.9M144.08 515.7h5.6M144.08 518.9h5.6M154.73 514.3V517.5M151.93 514.3h5.6M151.93 517.5h5.6M158.66 515.5V518.7M155.86 515.5h5.6M155.86 518.7h5.6M162.59 516.9V520.1M159.79 516.9h5.6M159.79 520.1h5.6M166.51 512.6V515.8M163.71 512.6h5.6M163.71 515.8h5.6M170.44 508.2V511.4M167.64 508.2h5.6M167.64 511.4h5.6M174.37 518.8V522M171.57 518.8h5.6M171.57 522h5.6M178.29 523.9V527.1M175.49 523.9h5.6M175.49 527.1h5.6M182.22 523.3V526.5M179.42 523.3h5.6M179.42 526.5h5.6M186.15 514.8V518M183.35 514.8h5.6M183.35 518h5.6M190.07 525.3V528.5M187.27 525.3h5.6M187.27 528.5h5.6M194 543.2V546.4M191.2 543.2h5.6M191.2 546.4h5.6M197.93 534.2V537.4M195.13 534.2h5.6M195.13 537.4h5.6M201.86 520.6V523.8M199.06 520.6h5.6M199.06 523.8h5.6M205.78 511.1V514.3M202.98 511.1h5.6M202.98 514.3h5.6M213.64 513V516.2M210.84 513h5.6M210.84 516.2h5.6M217.56 517.3V520.5M214.76 517.3h5.6M214.76 520.5h5.6M221.49 516.6V519.8M218.69 516.6h5.6M218.69 519.8h5.6M225.42 515.7V518.9M222.62 515.7h5.6M222.62 518.9h5.6M229.34 519.8V523M226.54 519.8h5.6M226.54 523h5.6M233.27 513.1V516.3M230.47 513.1h5.6M230.47 516.3h5.6M237.2 516.4V519.6M234.4 516.4h5.6M234.4 519.6h5.6M241.13 504.6V507.8M238.33 504.6h5.6M238.33 507.8h5.6M245.05 516.6V519.8M242.25 516.6h5.6M242.25 519.8h5.6M248.98 506.1V509.3M246.18 506.1h5.6M246.18 509.3h5.6M252.91 515.2V518.4M250.11 515.2h5.6M250.11 518.4h5.6M256.83 518.9V522.1M254.03 518.9h5.6M254.03 522.1h5.6M260.76 522.9V526.1M257.96 522.9h5.6M257.96 526.1h5.6M264.69 494.2V497.4M261.89 494.2h5.6M261.89 497.4h5.6M268.62 520.4V523.6M265.81 520.4h5.6M265.81 523.6h5.6M272.54 522.9V526.1M269.74 522.9h5.6M269.74 526.1h5.6M276.47 518.4V521.6M273.67 518.4h5.6M273.67 521.6h5.6M280.4 517.3V520.5M277.6 517.3h5.6M277.6 520.5h5.6M284.32 511.6V519M281.52 511.6h5.6M281.52 519h5.6M292.18 520.2V523.4M289.38 520.2h5.6M289.38 523.4h5.6M296.1 523.9V527.1M293.3 523.9h5.6M293.3 527.1h5.6M300.03 514.3V517.5M297.23 514.3h5.6M297.23 517.5h5.6M303.96 517.9V521.1M301.16 517.9h5.6M301.16 521.1h5.6M307.88 512.5V515.7M305.08 512.5h5.6M305.08 515.7h5.6M311.81 517.5V520.7M309.01 517.5h5.6M309.01 520.7h5.6M319.67 507.4V510.6M316.87 507.4h5.6M316.87 510.6h5.6M323.59 520.7V523.9M320.79 520.7h5.6M320.79 523.9h5.6M327.52 522.6V525.8M324.72 522.6h5.6M324.72 525.8h5.6M331.45 519.6V522.8M328.65 519.6h5.6M328.65 522.8h5.6M335.37 520.4V523.6M332.57 520.4h5.6M332.57 523.6h5.6M339.3 506.2V509.4M336.5 506.2h5.6M336.5 509.4h5.6M343.23 523.1V526.3M340.43 523.1h5.6M340.43 526.3h5.6M347.15 520.7V523.9M344.35 520.7h5.6M344.35 523.9h5.6M351.08 521V524.2M348.28 521h5.6M348.28 524.2h5.6M355.01 524.2V527.4M352.21 524.2h5.6M352.21 527.4h5.6M362.86 521.5V524.7M360.06 521.5h5.6M360.06 524.7h5.6M366.79 520.4V523.6M363.99 520.4h5.6M363.99 523.6h5.6M370.72 507.8V511M367.92 507.8h5.6M367.92 511h5.6M374.64 483.2V486.4M371.84 483.2h5.6M371.84 486.4h5.6M378.57 492.5V495.7M375.77 492.5h5.6M375.77 495.7h5.6M382.5 516.5V519.7M379.7 516.5h5.6M379.7 519.7h5.6M386.42 505V508.2M383.62 505h5.6M383.62 508.2h5.6M390.35 480.1V483.3M387.55 480.1h5.6M387.55 483.3h5.6M394.28 523V526.2M391.48 523h5.6M391.48 526.2h5.6M398.21 519.5V522.7M395.41 519.5h5.6M395.41 522.7h5.6M402.13 516.5V519.7M399.33 516.5h5.6M399.33 519.7h5.6M406.06 519.5V522.7M403.26 519.5h5.6M403.26 522.7h5.6M409.99 520.1V523.3M407.19 520.1h5.6M407.19 523.3h5.6M417.84 515.4V518.6M415.04 515.4h5.6M415.04 518.6h5.6M421.77 468.8V479.2M418.97 468.8h5.6M418.97 479.2h5.6M429.62 387.7V450.9M426.82 387.7h5.6M426.82 450.9h5.6M433.55 520V523.2M430.75 520h5.6M430.75 523.2h5.6M437.48 465.3V475.7M434.68 465.3h5.6M434.68 475.7h5.6M441.4 531.4V534.6M438.6 531.4h5.6M438.6 534.6h5.6M445.33 512V515.2M442.53 512h5.6M442.53 515.2h5.6M449.26 511.4V514.6M446.46 511.4h5.6M446.46 514.6h5.6M453.18 523.4V526.6M450.38 523.4h5.6M450.38 526.6h5.6M457.11 500.1V503.3M454.31 500.1h5.6M454.31 503.3h5.6M461.04 493.8V497M458.24 493.8h5.6M458.24 497h5.6M464.97 508.9V512.1M462.17 508.9h5.6M462.17 512.1h5.6M468.89 513.2V516.4M466.09 513.2h5.6M466.09 516.4h5.6M472.82 509.7V512.9M470.02 509.7h5.6M470.02 512.9h5.6M476.75 362.2V380.2M473.95 362.2h5.6M473.95 380.2h5.6M496.38 515.8V519M493.58 515.8h5.6M493.58 519h5.6M500.31 510.1V513.3M497.51 510.1h5.6M497.51 513.3h5.6M504.24 512.6V515.8M501.44 512.6h5.6M501.44 515.8h5.6M508.16 504.1V507.3M505.36 504.1h5.6M505.36 507.3h5.6M512.09 521V524.2M509.29 521h5.6M509.29 524.2h5.6M516.02 506.7V509.9M513.22 506.7h5.6M513.22 509.9h5.6M519.94 517.2V520.4M517.14 517.2h5.6M517.14 520.4h5.6M523.87 512.4V515.6M521.07 512.4h5.6M521.07 515.6h5.6M527.8 492.1V495.3M525 492.1h5.6M525 495.3h5.6M531.72 509.5V512.7M528.92 509.5h5.6M528.92 512.7h5.6M535.65 513.2V516.4M532.85 513.2h5.6M532.85 516.4h5.6M539.58 511.2V514.4M536.78 511.2h5.6M536.78 514.4h5.6M543.5 510.7V513.9M540.71 510.7h5.6M540.71 513.9h5.6M547.43 508.6V511.8M544.63 508.6h5.6M544.63 511.8h5.6M555.29 513.5V516.7M552.49 513.5h5.6M552.49 516.7h5.6M559.21 499.3V502.5M556.41 499.3h5.6M556.41 502.5h5.6M567.07 513.2V516.4M564.27 513.2h5.6M564.27 516.4h5.6M570.99 505.5V516.3M568.19 505.5h5.6M568.19 516.3h5.6M574.92 520.9V524.1M572.12 520.9h5.6M572.12 524.1h5.6M582.77 516.4V519.6M579.98 516.4h5.6M579.98 519.6h5.6M586.7 514.9V518.1M583.9 514.9h5.6M583.9 518.1h5.6M590.63 515.3V518.5M587.83 515.3h5.6M587.83 518.5h5.6M594.56 518.4V521.6M591.76 518.4h5.6M591.76 521.6h5.6M598.48 524.4V527.6M595.68 524.4h5.6M595.68 527.6h5.6M602.41 509.9V513.1M599.61 509.9h5.6M599.61 513.1h5.6M606.34 491V494.2M603.54 491h5.6M603.54 494.2h5.6M610.26 511.2V514.4M607.46 511.2h5.6M607.46 514.4h5.6M618.12 508.9V512.1M615.32 508.9h5.6M615.32 512.1h5.6M622.04 509.9V513.1M619.25 509.9h5.6M619.25 513.1h5.6M625.97 516.4V519.6M623.17 516.4h5.6M623.17 519.6h5.6M629.9 511.5V514.7M627.1 511.5h5.6M627.1 514.7h5.6M633.83 520.3V523.5M631.03 520.3h5.6M631.03 523.5h5.6M637.75 538.6V541.8M634.95 538.6h5.6M634.95 541.8h5.6M641.68 550.7V553.9M638.88 550.7h5.6M638.88 553.9h5.6M645.61 569.9V573.1M642.81 569.9h5.6M642.81 573.1h5.6" fill="none" stroke="#000" stroke-width="1.1"/>
<g fill="#8f8f8f" stroke="#111" stroke-width="1.0"><circle cx="64.41" cy="522.3" r="3.25"/><circle cx="68.34" cy="524.1" r="3.25"/><circle cx="72.27" cy="515.9" r="3.25"/><circle cx="76.19" cy="517.3" r="3.25"/><circle cx="80.12" cy="515" r="3.25"/><circle cx="84.05" cy="517.7" r="3.25"/><circle cx="87.97" cy="516.2" r="3.25"/><circle cx="91.9" cy="516.8" r="3.25"/><circle cx="95.83" cy="519.1" r="3.25"/><circle cx="99.75" cy="518.2" r="3.25"/><circle cx="103.68" cy="520.5" r="3.25"/><circle cx="111.54" cy="518.4" r="3.25"/><circle cx="115.46" cy="528" r="3.25"/><circle cx="119.39" cy="523.8" r="3.25"/><circle cx="123.32" cy="519.1" r="3.25"/><circle cx="127.24" cy="518.2" r="3.25"/><circle cx="131.17" cy="519.8" r="3.25"/><circle cx="135.1" cy="521.8" r="3.25"/><circle cx="139.02" cy="519.5" r="3.25"/><circle cx="142.95" cy="522.5" r="3.25"/><circle cx="146.88" cy="517.3" r="3.25"/><circle cx="154.73" cy="515.9" r="3.25"/><circle cx="158.66" cy="517.1" r="3.25"/><circle cx="162.59" cy="518.5" r="3.25"/><circle cx="166.51" cy="514.2" r="3.25"/><circle cx="170.44" cy="509.8" r="3.25"/><circle cx="174.37" cy="520.4" r="3.25"/><circle cx="178.29" cy="525.5" r="3.25"/><circle cx="182.22" cy="524.9" r="3.25"/><circle cx="186.15" cy="516.4" r="3.25"/><circle cx="190.07" cy="526.9" r="3.25"/><circle cx="194" cy="544.8" r="3.25"/><circle cx="197.93" cy="535.8" r="3.25"/><circle cx="201.86" cy="522.2" r="3.25"/><circle cx="205.78" cy="512.7" r="3.25"/><circle cx="213.64" cy="514.6" r="3.25"/><circle cx="217.56" cy="518.9" r="3.25"/><circle cx="221.49" cy="518.2" r="3.25"/><circle cx="225.42" cy="517.3" r="3.25"/><circle cx="229.34" cy="521.4" r="3.25"/><circle cx="233.27" cy="514.7" r="3.25"/><circle cx="237.2" cy="518" r="3.25"/><circle cx="241.13" cy="506.2" r="3.25"/><circle cx="245.05" cy="518.2" r="3.25"/><circle cx="248.98" cy="507.7" r="3.25"/><circle cx="252.91" cy="516.8" r="3.25"/><circle cx="256.83" cy="520.5" r="3.25"/><circle cx="260.76" cy="524.5" r="3.25"/><circle cx="264.69" cy="495.8" r="3.25"/><circle cx="268.62" cy="522" r="3.25"/><circle cx="272.54" cy="524.5" r="3.25"/><circle cx="276.47" cy="520" r="3.25"/><circle cx="280.4" cy="518.9" r="3.25"/><circle cx="284.32" cy="515.3" r="3.25"/><circle cx="292.18" cy="521.8" r="3.25"/><circle cx="296.1" cy="525.5" r="3.25"/><circle cx="300.03" cy="515.9" r="3.25"/><circle cx="303.96" cy="519.5" r="3.25"/><circle cx="307.88" cy="514.1" r="3.25"/><circle cx="311.81" cy="519.1" r="3.25"/><circle cx="319.67" cy="509" r="3.25"/><circle cx="323.59" cy="522.3" r="3.25"/><circle cx="327.52" cy="524.2" r="3.25"/><circle cx="331.45" cy="521.2" r="3.25"/><circle cx="335.37" cy="522" r="3.25"/><circle cx="339.3" cy="507.8" r="3.25"/><circle cx="343.23" cy="524.7" r="3.25"/><circle cx="347.15" cy="522.3" r="3.25"/><circle cx="351.08" cy="522.6" r="3.25"/><circle cx="355.01" cy="525.8" r="3.25"/><circle cx="362.86" cy="523.1" r="3.25"/><circle cx="366.79" cy="522" r="3.25"/><circle cx="370.72" cy="509.4" r="3.25"/><circle cx="374.64" cy="484.8" r="3.25"/><circle cx="378.57" cy="494.1" r="3.25"/><circle cx="382.5" cy="518.1" r="3.25"/><circle cx="386.42" cy="506.6" r="3.25"/><circle cx="390.35" cy="481.7" r="3.25"/><circle cx="394.28" cy="524.6" r="3.25"/><circle cx="398.21" cy="521.1" r="3.25"/><circle cx="402.13" cy="518.1" r="3.25"/><circle cx="406.06" cy="521.1" r="3.25"/><circle cx="409.99" cy="521.7" r="3.25"/><circle cx="417.84" cy="517" r="3.25"/><circle cx="421.77" cy="474" r="3.25"/><circle cx="429.62" cy="419.3" r="3.25"/><circle cx="433.55" cy="521.6" r="3.25"/><circle cx="437.48" cy="470.5" r="3.25"/><circle cx="441.4" cy="533" r="3.25"/><circle cx="445.33" cy="513.6" r="3.25"/><circle cx="449.26" cy="513" r="3.25"/><circle cx="453.18" cy="525" r="3.25"/><circle cx="457.11" cy="501.7" r="3.25"/><circle cx="461.04" cy="495.4" r="3.25"/><circle cx="464.97" cy="510.5" r="3.25"/><circle cx="468.89" cy="514.8" r="3.25"/><circle cx="472.82" cy="511.3" r="3.25"/><circle cx="476.75" cy="371.2" r="3.25"/><circle cx="496.38" cy="517.4" r="3.25"/><circle cx="500.31" cy="511.7" r="3.25"/><circle cx="504.24" cy="514.2" r="3.25"/><circle cx="508.16" cy="505.7" r="3.25"/><circle cx="512.09" cy="522.6" r="3.25"/><circle cx="516.02" cy="508.3" r="3.25"/><circle cx="519.94" cy="518.8" r="3.25"/><circle cx="523.87" cy="514" r="3.25"/><circle cx="527.8" cy="493.7" r="3.25"/><circle cx="531.72" cy="511.1" r="3.25"/><circle cx="535.65" cy="514.8" r="3.25"/><circle cx="539.58" cy="512.8" r="3.25"/><circle cx="543.5" cy="512.3" r="3.25"/><circle cx="547.43" cy="510.2" r="3.25"/><circle cx="555.29" cy="515.1" r="3.25"/><circle cx="559.21" cy="500.9" r="3.25"/><circle cx="567.07" cy="514.8" r="3.25"/><circle cx="570.99" cy="510.9" r="3.25"/><circle cx="574.92" cy="522.5" r="3.25"/><circle cx="582.77" cy="518" r="3.25"/><circle cx="586.7" cy="516.5" r="3.25"/><circle cx="590.63" cy="516.9" r="3.25"/><circle cx="594.56" cy="520" r="3.25"/><circle cx="598.48" cy="526" r="3.25"/><circle cx="602.41" cy="511.5" r="3.25"/><circle cx="606.34" cy="492.6" r="3.25"/><circle cx="610.26" cy="512.8" r="3.25"/><circle cx="618.12" cy="510.5" r="3.25"/><circle cx="622.04" cy="511.5" r="3.25"/><circle cx="625.97" cy="518" r="3.25"/><circle cx="629.9" cy="513.1" r="3.25"/><circle cx="633.83" cy="521.9" r="3.25"/><circle cx="637.75" cy="540.2" r="3.25"/><circle cx="641.68" cy="552.3" r="3.25"/><circle cx="645.61" cy="571.5" r="3.25"/></g>
<path d="M64.41 528.4 L68.34 528.6 L72.27 521.6 L76.19 521.6 L80.12 520.5 L84.05 522.7 L87.97 519.8 L91.9 524.4 L95.83 525.3 L99.75 525.5 L103.68 524.4M111.54 528.6 L115.46 535.9 L119.39 530.5 L123.32 523.6 L127.24 522.3 L131.17 527.1 L135.1 523.2 L139.02 526.8 L142.95 527.7 L146.88 521.4M154.73 522.3 L158.66 523.2 L162.59 524 L166.51 521.1 L170.44 516.8 L174.37 526.9 L178.29 534.2 L182.22 529.3 L186.15 523.6 L190.07 534.4 L194 548.1 L197.93 540.3 L201.86 528.8 L205.78 519.6M213.64 522.9 L217.56 524.7 L221.49 524.4 L225.42 525 L229.34 529.3 L233.27 523.6 L237.2 527.3 L241.13 513.5 L245.05 519.5 L248.98 514.4 L252.91 520.7 L256.83 528.6 L260.76 529.4 L264.69 501.6 L268.62 528.5 L272.54 530.7 L276.47 525.5 L280.4 524.5 L284.32 521.4M292.18 527.7 L296.1 531.4 L300.03 524.5 L303.96 522.7 L307.88 523.6 L311.81 523.8M319.67 518.8 L323.59 526.4 L327.52 529.7 L331.45 525.8 L335.37 526.7 L339.3 516 L343.23 530.8 L347.15 527.8 L351.08 531.1 L355.01 530.4M362.86 526.9 L366.79 525.5 L370.72 521 L374.64 509.6 L378.57 511.7 L382.5 524.2 L386.42 519.3 L390.35 507.3 L394.28 532.5 L398.21 526.6 L402.13 524.2 L406.06 526.9 L409.99 528.4M417.84 521.1 L421.77 483.1M429.62 437.8 L433.55 527.3 L437.48 477.9 L441.4 536.4 L445.33 519.3 L449.26 518.6 L453.18 529.5 L457.11 506.8 L461.04 499.3 L464.97 519.3 L468.89 521.8 L472.82 523.2 L476.75 460.9M496.38 523 L500.31 525.5 L504.24 518.7 L508.16 519.2 L512.09 525.1 L516.02 515.4 L519.94 521 L523.87 519.8 L527.8 509.7 L531.72 521.6 L535.65 521.6 L539.58 518 L543.5 515.5 L547.43 520.5M555.29 520.5 L559.21 507.2M567.07 519.3 L570.99 525.9 L574.92 526.8M582.77 524.5 L586.7 522.6 L590.63 523.6 L594.56 524 L598.48 529 L602.41 517 L606.34 494.8 L610.26 516M618.12 515.2 L622.04 516 L625.97 523.2 L629.9 517.7 L633.83 526.4 L637.75 544.1 L641.68 557.8 L645.61 569.9" fill="none" stroke="#a3101a" stroke-width="1"/>
<path d="M64.41 526.8V530M61.61 526.8h5.6M61.61 530h5.6M68.34 527V530.2M65.54 527h5.6M65.54 530.2h5.6M72.27 520V523.2M69.47 520h5.6M69.47 523.2h5.6M76.19 520V523.2M73.39 520h5.6M73.39 523.2h5.6M80.12 518.9V522.1M77.32 518.9h5.6M77.32 522.1h5.6M84.05 521.1V524.3M81.25 521.1h5.6M81.25 524.3h5.6M87.97 518.2V521.4M85.17 518.2h5.6M85.17 521.4h5.6M91.9 522.8V526M89.1 522.8h5.6M89.1 526h5.6M95.83 523.7V526.9M93.03 523.7h5.6M93.03 526.9h5.6M99.75 523.9V527.1M96.95 523.9h5.6M96.95 527.1h5.6M103.68 522.8V526M100.88 522.8h5.6M100.88 526h5.6M111.54 523.9V533.3M108.74 523.9h5.6M108.74 533.3h5.6M115.46 534.3V537.5M112.66 534.3h5.6M112.66 537.5h5.6M119.39 528.9V532.1M116.59 528.9h5.6M116.59 532.1h5.6M123.32 522V525.2M120.52 522h5.6M120.52 525.2h5.6M127.24 520.7V523.9M124.44 520.7h5.6M124.44 523.9h5.6M131.17 525.5V528.7M128.37 525.5h5.6M128.37 528.7h5.6M135.1 521.6V524.8M132.3 521.6h5.6M132.3 524.8h5.6M139.02 525.2V528.4M136.22 525.2h5.6M136.22 528.4h5.6M142.95 526.1V529.3M140.15 526.1h5.6M140.15 529.3h5.6M146.88 519.8V523M144.08 519.8h5.6M144.08 523h5.6M154.73 520.7V523.9M151.93 520.7h5.6M151.93 523.9h5.6M158.66 521.6V524.8M155.86 521.6h5.6M155.86 524.8h5.6M162.59 522.4V525.6M159.79 522.4h5.6M159.79 525.6h5.6M166.51 519.5V522.7M163.71 519.5h5.6M163.71 522.7h5.6M170.44 515.2V518.4M167.64 515.2h5.6M167.64 518.4h5.6M174.37 525.3V528.5M171.57 525.3h5.6M171.57 528.5h5.6M178.29 532.6V535.8M175.49 532.6h5.6M175.49 535.8h5.6M182.22 527.7V530.9M179.42 527.7h5.6M179.42 530.9h5.6M186.15 522V525.2M183.35 522h5.6M183.35 525.2h5.6M190.07 532.8V536M187.27 532.8h5.6M187.27 536h5.6M194 546.5V549.7M191.2 546.5h5.6M191.2 549.7h5.6M197.93 538.7V541.9M195.13 538.7h5.6M195.13 541.9h5.6M201.86 527.2V530.4M199.06 527.2h5.6M199.06 530.4h5.6M205.78 518V521.2M202.98 518h5.6M202.98 521.2h5.6M213.64 521.3V524.5M210.84 521.3h5.6M210.84 524.5h5.6M217.56 523.1V526.3M214.76 523.1h5.6M214.76 526.3h5.6M221.49 522.8V526M218.69 522.8h5.6M218.69 526h5.6M225.42 523.4V526.6M222.62 523.4h5.6M222.62 526.6h5.6M229.34 527.7V530.9M226.54 527.7h5.6M226.54 530.9h5.6M233.27 522V525.2M230.47 522h5.6M230.47 525.2h5.6M237.2 525.7V528.9M234.4 525.7h5.6M234.4 528.9h5.6M241.13 511.9V515.1M238.33 511.9h5.6M238.33 515.1h5.6M245.05 517.9V521.1M242.25 517.9h5.6M242.25 521.1h5.6M248.98 512.8V516M246.18 512.8h5.6M246.18 516h5.6M252.91 519.1V522.3M250.11 519.1h5.6M250.11 522.3h5.6M256.83 527V530.2M254.03 527h5.6M254.03 530.2h5.6M260.76 527.8V531M257.96 527.8h5.6M257.96 531h5.6M264.69 500V503.2M261.89 500h5.6M261.89 503.2h5.6M268.62 526.9V530.1M265.81 526.9h5.6M265.81 530.1h5.6M272.54 529.1V532.3M269.74 529.1h5.6M269.74 532.3h5.6M276.47 523.9V527.1M273.67 523.9h5.6M273.67 527.1h5.6M280.4 522.9V526.1M277.6 522.9h5.6M277.6 526.1h5.6M284.32 519.8V523M281.52 519.8h5.6M281.52 523h5.6M292.18 526.1V529.3M289.38 526.1h5.6M289.38 529.3h5.6M296.1 529.8V533M293.3 529.8h5.6M293.3 533h5.6M300.03 522.9V526.1M297.23 522.9h5.6M297.23 526.1h5.6M303.96 521.1V524.3M301.16 521.1h5.6M301.16 524.3h5.6M307.88 522V525.2M305.08 522h5.6M305.08 525.2h5.6M311.81 522.2V525.4M309.01 522.2h5.6M309.01 525.4h5.6M319.67 517.2V520.4M316.87 517.2h5.6M316.87 520.4h5.6M323.59 524.8V528M320.79 524.8h5.6M320.79 528h5.6M327.52 528.1V531.3M324.72 528.1h5.6M324.72 531.3h5.6M331.45 524.2V527.4M328.65 524.2h5.6M328.65 527.4h5.6M335.37 525.1V528.3M332.57 525.1h5.6M332.57 528.3h5.6M339.3 514.4V517.6M336.5 514.4h5.6M336.5 517.6h5.6M343.23 529.2V532.4M340.43 529.2h5.6M340.43 532.4h5.6M347.15 526.2V529.4M344.35 526.2h5.6M344.35 529.4h5.6M351.08 529.5V532.7M348.28 529.5h5.6M348.28 532.7h5.6M355.01 528.8V532M352.21 528.8h5.6M352.21 532h5.6M362.86 525.3V528.5M360.06 525.3h5.6M360.06 528.5h5.6M366.79 523.9V527.1M363.99 523.9h5.6M363.99 527.1h5.6M370.72 519.4V522.6M367.92 519.4h5.6M367.92 522.6h5.6M374.64 508V511.2M371.84 508h5.6M371.84 511.2h5.6M378.57 510.1V513.3M375.77 510.1h5.6M375.77 513.3h5.6M382.5 522.6V525.8M379.7 522.6h5.6M379.7 525.8h5.6M386.42 517.7V520.9M383.62 517.7h5.6M383.62 520.9h5.6M390.35 505.7V508.9M387.55 505.7h5.6M387.55 508.9h5.6M394.28 530.9V534.1M391.48 530.9h5.6M391.48 534.1h5.6M398.21 525V528.2M395.41 525h5.6M395.41 528.2h5.6M402.13 522.6V525.8M399.33 522.6h5.6M399.33 525.8h5.6M406.06 525.3V528.5M403.26 525.3h5.6M403.26 528.5h5.6M409.99 526.8V530M407.19 526.8h5.6M407.19 530h5.6M417.84 519.5V522.7M415.04 519.5h5.6M415.04 522.7h5.6M421.77 481.5V484.7M418.97 481.5h5.6M418.97 484.7h5.6M429.62 414.5V461.1M426.82 414.5h5.6M426.82 461.1h5.6M433.55 525.7V528.9M430.75 525.7h5.6M430.75 528.9h5.6M437.48 476.3V479.5M434.68 476.3h5.6M434.68 479.5h5.6M441.4 534.8V538M438.6 534.8h5.6M438.6 538h5.6M445.33 517.7V520.9M442.53 517.7h5.6M442.53 520.9h5.6M449.26 517V520.2M446.46 517h5.6M446.46 520.2h5.6M453.18 527.9V531.1M450.38 527.9h5.6M450.38 531.1h5.6M457.11 505.2V508.4M454.31 505.2h5.6M454.31 508.4h5.6M461.04 497.7V500.9M458.24 497.7h5.6M458.24 500.9h5.6M464.97 517.7V520.9M462.17 517.7h5.6M462.17 520.9h5.6M468.89 520.2V523.4M466.09 520.2h5.6M466.09 523.4h5.6M472.82 521.6V524.8M470.02 521.6h5.6M470.02 524.8h5.6M476.75 458.7V463.1M473.95 458.7h5.6M473.95 463.1h5.6M496.38 521.4V524.6M493.58 521.4h5.6M493.58 524.6h5.6M500.31 523.9V527.1M497.51 523.9h5.6M497.51 527.1h5.6M504.24 517.1V520.3M501.44 517.1h5.6M501.44 520.3h5.6M508.16 517.6V520.8M505.36 517.6h5.6M505.36 520.8h5.6M512.09 523.5V526.7M509.29 523.5h5.6M509.29 526.7h5.6M516.02 513.8V517M513.22 513.8h5.6M513.22 517h5.6M519.94 519.4V522.6M517.14 519.4h5.6M517.14 522.6h5.6M523.87 518.2V521.4M521.07 518.2h5.6M521.07 521.4h5.6M527.8 508.1V511.3M525 508.1h5.6M525 511.3h5.6M531.72 520V523.2M528.92 520h5.6M528.92 523.2h5.6M535.65 520V523.2M532.85 520h5.6M532.85 523.2h5.6M539.58 516.4V519.6M536.78 516.4h5.6M536.78 519.6h5.6M543.5 513.9V517.1M540.71 513.9h5.6M540.71 517.1h5.6M547.43 518.9V522.1M544.63 518.9h5.6M544.63 522.1h5.6M555.29 518.9V522.1M552.49 518.9h5.6M552.49 522.1h5.6M559.21 505.6V508.8M556.41 505.6h5.6M556.41 508.8h5.6M567.07 517.7V520.9M564.27 517.7h5.6M564.27 520.9h5.6M570.99 524.3V527.5M568.19 524.3h5.6M568.19 527.5h5.6M574.92 525.2V528.4M572.12 525.2h5.6M572.12 528.4h5.6M582.77 522.9V526.1M579.98 522.9h5.6M579.98 526.1h5.6M586.7 521V524.2M583.9 521h5.6M583.9 524.2h5.6M590.63 522V525.2M587.83 522h5.6M587.83 525.2h5.6M594.56 522.4V525.6M591.76 522.4h5.6M591.76 525.6h5.6M598.48 527.4V530.6M595.68 527.4h5.6M595.68 530.6h5.6M602.41 515.4V518.6M599.61 515.4h5.6M599.61 518.6h5.6M606.34 493.2V496.4M603.54 493.2h5.6M603.54 496.4h5.6M610.26 514.4V517.6M607.46 514.4h5.6M607.46 517.6h5.6M618.12 513.6V516.8M615.32 513.6h5.6M615.32 516.8h5.6M622.04 514.4V517.6M619.25 514.4h5.6M619.25 517.6h5.6M625.97 521.6V524.8M623.17 521.6h5.6M623.17 524.8h5.6M629.9 516.1V519.3M627.1 516.1h5.6M627.1 519.3h5.6M633.83 524.8V528M631.03 524.8h5.6M631.03 528h5.6M637.75 542.5V545.7M634.95 542.5h5.6M634.95 545.7h5.6M641.68 556.2V559.4M638.88 556.2h5.6M638.88 559.4h5.6M645.61 568.3V571.5M642.81 568.3h5.6M642.81 571.5h5.6" fill="none" stroke="#d0202a" stroke-width="1.15"/>
<g fill="#c8202a" stroke="#111" stroke-width="1.0"><circle cx="64.41" cy="528.4" r="3.25"/><circle cx="68.34" cy="528.6" r="3.25"/><circle cx="72.27" cy="521.6" r="3.25"/><circle cx="76.19" cy="521.6" r="3.25"/><circle cx="80.12" cy="520.5" r="3.25"/><circle cx="84.05" cy="522.7" r="3.25"/><circle cx="87.97" cy="519.8" r="3.25"/><circle cx="91.9" cy="524.4" r="3.25"/><circle cx="95.83" cy="525.3" r="3.25"/><circle cx="99.75" cy="525.5" r="3.25"/><circle cx="103.68" cy="524.4" r="3.25"/><circle cx="111.54" cy="528.6" r="3.25"/><circle cx="115.46" cy="535.9" r="3.25"/><circle cx="119.39" cy="530.5" r="3.25"/><circle cx="123.32" cy="523.6" r="3.25"/><circle cx="127.24" cy="522.3" r="3.25"/><circle cx="131.17" cy="527.1" r="3.25"/><circle cx="135.1" cy="523.2" r="3.25"/><circle cx="139.02" cy="526.8" r="3.25"/><circle cx="142.95" cy="527.7" r="3.25"/><circle cx="146.88" cy="521.4" r="3.25"/><circle cx="154.73" cy="522.3" r="3.25"/><circle cx="158.66" cy="523.2" r="3.25"/><circle cx="162.59" cy="524" r="3.25"/><circle cx="166.51" cy="521.1" r="3.25"/><circle cx="170.44" cy="516.8" r="3.25"/><circle cx="174.37" cy="526.9" r="3.25"/><circle cx="178.29" cy="534.2" r="3.25"/><circle cx="182.22" cy="529.3" r="3.25"/><circle cx="186.15" cy="523.6" r="3.25"/><circle cx="190.07" cy="534.4" r="3.25"/><circle cx="194" cy="548.1" r="3.25"/><circle cx="197.93" cy="540.3" r="3.25"/><circle cx="201.86" cy="528.8" r="3.25"/><circle cx="205.78" cy="519.6" r="3.25"/><circle cx="213.64" cy="522.9" r="3.25"/><circle cx="217.56" cy="524.7" r="3.25"/><circle cx="221.49" cy="524.4" r="3.25"/><circle cx="225.42" cy="525" r="3.25"/><circle cx="229.34" cy="529.3" r="3.25"/><circle cx="233.27" cy="523.6" r="3.25"/><circle cx="237.2" cy="527.3" r="3.25"/><circle cx="241.13" cy="513.5" r="3.25"/><circle cx="245.05" cy="519.5" r="3.25"/><circle cx="248.98" cy="514.4" r="3.25"/><circle cx="252.91" cy="520.7" r="3.25"/><circle cx="256.83" cy="528.6" r="3.25"/><circle cx="260.76" cy="529.4" r="3.25"/><circle cx="264.69" cy="501.6" r="3.25"/><circle cx="268.62" cy="528.5" r="3.25"/><circle cx="272.54" cy="530.7" r="3.25"/><circle cx="276.47" cy="525.5" r="3.25"/><circle cx="280.4" cy="524.5" r="3.25"/><circle cx="284.32" cy="521.4" r="3.25"/><circle cx="292.18" cy="527.7" r="3.25"/><circle cx="296.1" cy="531.4" r="3.25"/><circle cx="300.03" cy="524.5" r="3.25"/><circle cx="303.96" cy="522.7" r="3.25"/><circle cx="307.88" cy="523.6" r="3.25"/><circle cx="311.81" cy="523.8" r="3.25"/><circle cx="319.67" cy="518.8" r="3.25"/><circle cx="323.59" cy="526.4" r="3.25"/><circle cx="327.52" cy="529.7" r="3.25"/><circle cx="331.45" cy="525.8" r="3.25"/><circle cx="335.37" cy="526.7" r="3.25"/><circle cx="339.3" cy="516" r="3.25"/><circle cx="343.23" cy="530.8" r="3.25"/><circle cx="347.15" cy="527.8" r="3.25"/><circle cx="351.08" cy="531.1" r="3.25"/><circle cx="355.01" cy="530.4" r="3.25"/><circle cx="362.86" cy="526.9" r="3.25"/><circle cx="366.79" cy="525.5" r="3.25"/><circle cx="370.72" cy="521" r="3.25"/><circle cx="374.64" cy="509.6" r="3.25"/><circle cx="378.57" cy="511.7" r="3.25"/><circle cx="382.5" cy="524.2" r="3.25"/><circle cx="386.42" cy="519.3" r="3.25"/><circle cx="390.35" cy="507.3" r="3.25"/><circle cx="394.28" cy="532.5" r="3.25"/><circle cx="398.21" cy="526.6" r="3.25"/><circle cx="402.13" cy="524.2" r="3.25"/><circle cx="406.06" cy="526.9" r="3.25"/><circle cx="409.99" cy="528.4" r="3.25"/><circle cx="417.84" cy="521.1" r="3.25"/><circle cx="421.77" cy="483.1" r="3.25"/><circle cx="429.62" cy="437.8" r="3.25"/><circle cx="433.55" cy="527.3" r="3.25"/><circle cx="437.48" cy="477.9" r="3.25"/><circle cx="441.4" cy="536.4" r="3.25"/><circle cx="445.33" cy="519.3" r="3.25"/><circle cx="449.26" cy="518.6" r="3.25"/><circle cx="453.18" cy="529.5" r="3.25"/><circle cx="457.11" cy="506.8" r="3.25"/><circle cx="461.04" cy="499.3" r="3.25"/><circle cx="464.97" cy="519.3" r="3.25"/><circle cx="468.89" cy="521.8" r="3.25"/><circle cx="472.82" cy="523.2" r="3.25"/><circle cx="476.75" cy="460.9" r="3.25"/><circle cx="496.38" cy="523" r="3.25"/><circle cx="500.31" cy="525.5" r="3.25"/><circle cx="504.24" cy="518.7" r="3.25"/><circle cx="508.16" cy="519.2" r="3.25"/><circle cx="512.09" cy="525.1" r="3.25"/><circle cx="516.02" cy="515.4" r="3.25"/><circle cx="519.94" cy="521" r="3.25"/><circle cx="523.87" cy="519.8" r="3.25"/><circle cx="527.8" cy="509.7" r="3.25"/><circle cx="531.72" cy="521.6" r="3.25"/><circle cx="535.65" cy="521.6" r="3.25"/><circle cx="539.58" cy="518" r="3.25"/><circle cx="543.5" cy="515.5" r="3.25"/><circle cx="547.43" cy="520.5" r="3.25"/><circle cx="555.29" cy="520.5" r="3.25"/><circle cx="559.21" cy="507.2" r="3.25"/><circle cx="567.07" cy="519.3" r="3.25"/><circle cx="570.99" cy="525.9" r="3.25"/><circle cx="574.92" cy="526.8" r="3.25"/><circle cx="582.77" cy="524.5" r="3.25"/><circle cx="586.7" cy="522.6" r="3.25"/><circle cx="590.63" cy="523.6" r="3.25"/><circle cx="594.56" cy="524" r="3.25"/><circle cx="598.48" cy="529" r="3.25"/><circle cx="602.41" cy="517" r="3.25"/><circle cx="606.34" cy="494.8" r="3.25"/><circle cx="610.26" cy="516" r="3.25"/><circle cx="618.12" cy="515.2" r="3.25"/><circle cx="622.04" cy="516" r="3.25"/><circle cx="625.97" cy="523.2" r="3.25"/><circle cx="629.9" cy="517.7" r="3.25"/><circle cx="633.83" cy="526.4" r="3.25"/><circle cx="637.75" cy="544.1" r="3.25"/><circle cx="641.68" cy="557.8" r="3.25"/><circle cx="645.61" cy="569.9" r="3.25"/></g>
<rect x="55" y="353.4" width="600.2" height="237.6" fill="none" stroke="#000" stroke-width="1.8"/>
<path d="M55 585.3h7.5M55 531.55h7.5M55 477.8h7.5M55 424.05h7.5M55 370.3h7.5M55 558.42h4.2M55 504.67h4.2M55 450.92h4.2M55 397.17h4.2M60.48 591v-4.3M68.34 591v-4.3M76.19 591v-4.3M84.05 591v-4.3M91.9 591v-7.4M99.75 591v-4.3M107.61 591v-4.3M115.46 591v-4.3M123.32 591v-4.3M131.17 591v-6.1M139.02 591v-4.3M146.88 591v-4.3M154.73 591v-4.3M162.59 591v-4.3M170.44 591v-7.4M178.29 591v-4.3M186.15 591v-4.3M194 591v-4.3M201.86 591v-4.3M209.71 591v-6.1M217.56 591v-4.3M225.42 591v-4.3M233.27 591v-4.3M241.13 591v-4.3M248.98 591v-7.4M256.83 591v-4.3M264.69 591v-4.3M272.54 591v-4.3M280.4 591v-4.3M288.25 591v-6.1M296.1 591v-4.3M303.96 591v-4.3M311.81 591v-4.3M319.67 591v-4.3M327.52 591v-7.4M335.37 591v-4.3M343.23 591v-4.3M351.08 591v-4.3M358.94 591v-4.3M366.79 591v-6.1M374.64 591v-4.3M382.5 591v-4.3M390.35 591v-4.3M398.21 591v-4.3M406.06 591v-7.4M413.91 591v-4.3M421.77 591v-4.3M429.62 591v-4.3M437.48 591v-4.3M445.33 591v-6.1M453.18 591v-4.3M461.04 591v-4.3M468.89 591v-4.3M476.75 591v-4.3M484.6 591v-7.4M492.45 591v-4.3M500.31 591v-4.3M508.16 591v-4.3M516.02 591v-4.3M523.87 591v-6.1M531.72 591v-4.3M539.58 591v-4.3M547.43 591v-4.3M555.29 591v-4.3M563.14 591v-7.4M570.99 591v-4.3M578.85 591v-4.3M586.7 591v-4.3M594.56 591v-4.3M602.41 591v-6.1M610.26 591v-4.3M618.12 591v-4.3M625.97 591v-4.3M633.83 591v-4.3M641.68 591v-7.4M649.53 591v-4.3" stroke="#000" stroke-width="1.5" fill="none"/>
<text x="51.7" y="591.9" text-anchor="end" font-size="19.8">0</text>
<text x="51.7" y="538.15" text-anchor="end" font-size="19.8">10</text>
<text x="51.7" y="484.4" text-anchor="end" font-size="19.8">20</text>
<text x="51.7" y="430.65" text-anchor="end" font-size="19.8">30</text>
<text x="51.7" y="376.9" text-anchor="end" font-size="19.8">40</text>
<text x="91.9" y="609.4" text-anchor="middle" font-size="19">280</text>
<text x="170.44" y="609.4" text-anchor="middle" font-size="19">300</text>
<text x="248.98" y="609.4" text-anchor="middle" font-size="19">320</text>
<text x="327.52" y="609.4" text-anchor="middle" font-size="19">340</text>
<text x="406.06" y="609.4" text-anchor="middle" font-size="19">360</text>
<text x="484.6" y="609.4" text-anchor="middle" font-size="19">380</text>
<text x="563.14" y="609.4" text-anchor="middle" font-size="19">400</text>
<text x="641.68" y="609.4" text-anchor="middle" font-size="19">420</text>
<text x="3.5" y="20.7" font-weight="bold" font-size="25.3">A</text>
<text x="70.2" y="27.6" font-size="27.5">apo C2A</text>
<text x="2.4" y="334.4" font-weight="bold" font-size="24.5">B</text>
<text x="72.9" y="343.9" font-size="27.4">apo C2B</text>
<text x="349.7" y="318.2" text-anchor="middle" font-size="21.4">Residue #</text>
<text x="349.5" y="635" text-anchor="middle" font-size="21.4">Residue #</text>
<text transform="translate(22.1 238.4) rotate(-90)" font-size="21.9"><tspan fill="#000">R</tspan><tspan fill="#000" font-size="13.8" dy="8">2</tspan><tspan fill="#8b1520" dy="-8"> CPMG</tspan><tspan fill="#000"> (</tspan><tspan fill="#555">HE</tspan><tspan fill="#000">)</tspan><tspan fill="#000"> s</tspan><tspan fill="#000" font-size="13.4" dy="-7.2">-1</tspan></text>
<text transform="translate(22.1 566.4) rotate(-90)" font-size="21.9"><tspan fill="#000">R</tspan><tspan fill="#000" font-size="13.8" dy="8">2</tspan><tspan fill="#8b1520" dy="-8"> CPMG</tspan><tspan fill="#000"> (</tspan><tspan fill="#555">HE</tspan><tspan fill="#000">)</tspan><tspan fill="#000"> s</tspan><tspan fill="#000" font-size="13.4" dy="-7.2">-1</tspan></text>
</svg>
</body></html>
